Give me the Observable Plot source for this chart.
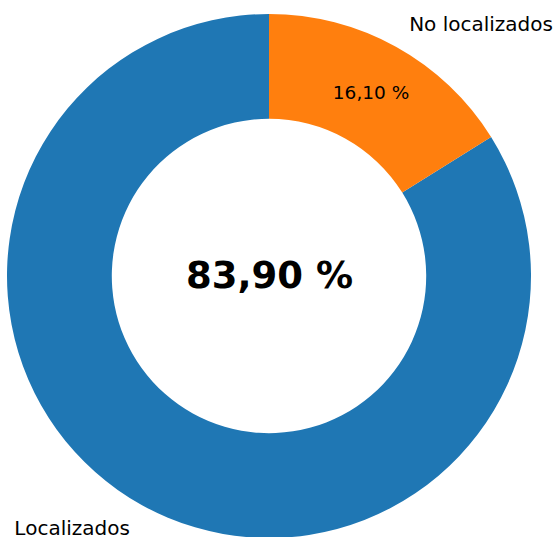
<!DOCTYPE html>
<html>
<head>
<meta charset="utf-8">
<script src="https://cdn.jsdelivr.net/npm/d3@7"></script>
<script src="https://cdn.jsdelivr.net/npm/@observablehq/plot@0.6"></script>
<style>
  html, body { margin: 0; padding: 0; background: #fff; }
  #chart svg { display: block; }
</style>
</head>
<body>
<div id="chart"></div>
<script>
const labels = ["Localizados", "No localizados"];
const values = [83.90, 16.10];
const colors = ["#1f77b4", "#ff7f0e"];

const W = 555, H = 537;
const innerFrac = 0.6;     // wedge width 0.4
const labelDist = 1.1;
const pctDist = 0.8;

const fmt = v => v.toFixed(2).replace(".", ",") + " %";

// pie layout: start at top, counterclockwise (d3 angles are clockwise from 12 o'clock)
const total = d3.sum(values);
let cum = 0;
const slices = labels.map((label, i) => {
  const f0 = cum / total;
  cum += values[i];
  const f1 = cum / total;
  const startAngle = -2 * Math.PI * f1;
  const endAngle = -2 * Math.PI * f0;
  const mid = (startAngle + endAngle) / 2;
  return {label, value: values[i], startAngle, endAngle, mid};
});

// scales: data units where outer radius = 1
const cxPx = 269, cyPx = 276, Rpx = 262;
const xDomain = [-cxPx / Rpx, (W - cxPx) / Rpx];
const yDomain = [-(H - cyPx) / Rpx, cyPx / Rpx];

const wedges = Plot.dot(slices, {
  x: () => 0, y: () => 0, fill: "label",
  render(index, scales, vals) {
    const {x, y} = scales;
    const cx = x(0), cy = y(0), R = x(1) - x(0);
    const arc = d3.arc().innerRadius(R * innerFrac).outerRadius(R);
    const g = d3.create("svg:g");
    g.selectAll("path").data(index).join("path")
      .attr("transform", `translate(${cx},${cy})`)
      .attr("d", i => arc(slices[i]))
      .attr("fill", i => vals.fill ? vals.fill[i] : colors[i]);
    return g.node();
  }
});

const labelOpts = side => ({
  x: d => labelDist * Math.sin(d.mid),
  y: d => labelDist * Math.cos(d.mid),
  text: "label",
  textAnchor: side,
  fontSize: 20,
  fill: "#000",
  lineAnchor: "middle"
});
const rightLabels = Plot.text(slices.filter(d => Math.sin(d.mid) >= 0), labelOpts("start"));
const leftLabels = Plot.text(slices.filter(d => Math.sin(d.mid) < 0), labelOpts("end"));

const pctLabels = Plot.text(slices.filter(d => d.label === "No localizados"), {
  x: d => pctDist * Math.sin(d.mid),
  y: d => pctDist * Math.cos(d.mid),
  text: d => fmt(d.value),
  fontSize: 18.5,
  fill: "#000",
  lineAnchor: "middle"
});

const centerLabel = Plot.text(slices.filter(d => d.label === "Localizados"), {
  x: () => 0, y: () => 0,
  text: d => fmt(d.value),
  fontSize: 37,
  fontWeight: "bold",
  fill: "#000",
  lineAnchor: "middle"
});

const chart = Plot.plot({
  width: W, height: H,
  margin: 0,
  style: {fontFamily: "DejaVu Sans", background: "#fff", overflow: "visible"},
  x: {domain: xDomain, axis: null},
  y: {domain: yDomain, axis: null},
  color: {domain: labels, range: colors},
  marks: [wedges, rightLabels, leftLabels, pctLabels, centerLabel]
});
document.getElementById("chart").appendChild(chart);
</script>
</body>
</html>
